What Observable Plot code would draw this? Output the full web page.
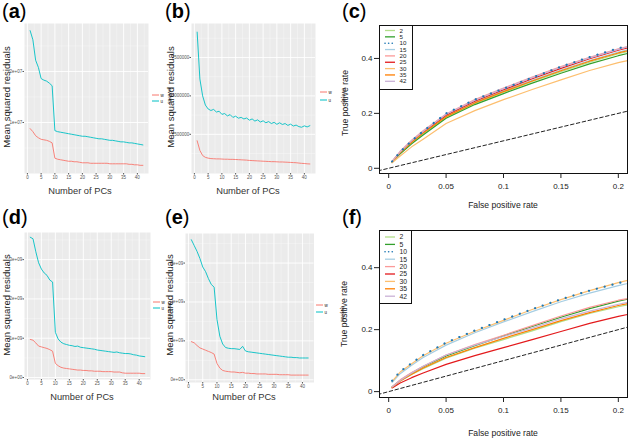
<!DOCTYPE html>
<html><head><meta charset="utf-8">
<script src="https://cdn.jsdelivr.net/npm/d3@7"></script>
<script src="https://cdn.jsdelivr.net/npm/@observablehq/plot@0.6"></script>
<style>
body{margin:0;background:#fff;}
#fig{position:relative;width:628px;height:440px;overflow:hidden;background:#fff;font-family:'Liberation Sans',Arial,Helvetica,sans-serif;}
.abs{position:absolute;white-space:nowrap;line-height:1;}
</style></head>
<body><div id="fig"></div>
<script>
// ---------- data ----------
const pcs = [1,2,3,4,5,6,7,8,9,10,11,12,13,14,15,16,17,18,19,20,21,22,23,24,25,26,27,28,29,30,31,32,33,34,35,36,37,38,39,40,41,42];
const seriesNames = ["w", "u"];           // legend labels (red, teal)
// panel (a), units of 1e7
const aRed  = [0.88,0.82,0.74,0.70,0.67,0.66,0.65,0.63,0.60,0.30,0.28,0.27,0.26,0.25,0.24,0.24,0.23,0.23,0.22,0.21,0.21,0.21,0.20,0.20,0.20,0.20,0.20,0.20,0.20,0.19,0.19,0.19,0.19,0.19,0.19,0.19,0.18,0.18,0.17,0.17,0.16,0.16];
const aTeal = [2.80,2.62,2.22,2.08,1.86,1.83,1.81,1.77,1.72,0.84,0.82,0.81,0.80,0.79,0.78,0.77,0.76,0.75,0.74,0.73,0.73,0.72,0.71,0.70,0.69,0.68,0.68,0.67,0.66,0.65,0.65,0.64,0.63,0.62,0.62,0.61,0.60,0.60,0.59,0.58,0.57,0.56];
// panel (b), units of 1e6
const bRed  = [2.08,1.45,1.12,1.00,0.95,0.92,0.91,0.90,0.90,0.89,0.88,0.88,0.87,0.87,0.86,0.85,0.84,0.83,0.82,0.80,0.79,0.78,0.77,0.76,0.75,0.74,0.73,0.72,0.72,0.71,0.70,0.70,0.69,0.68,0.67,0.66,0.65,0.63,0.61,0.60,0.58,0.57];
const bTeal = [9.15,6.10,5.00,4.40,4.15,4.05,4.12,3.95,4.00,3.80,3.85,3.70,3.78,3.60,3.68,3.55,3.60,3.50,3.56,3.42,3.50,3.36,3.44,3.30,3.38,3.25,3.33,3.20,3.28,3.15,3.25,3.14,3.20,3.08,3.16,3.04,3.10,3.00,2.96,3.05,2.98,3.06];
// panel (d), units of 1e9
const dRed  = [0.97,0.95,0.88,0.80,0.78,0.76,0.74,0.71,0.67,0.36,0.30,0.26,0.24,0.23,0.22,0.21,0.20,0.19,0.19,0.18,0.18,0.17,0.17,0.16,0.16,0.16,0.15,0.15,0.15,0.15,0.14,0.14,0.14,0.12,0.11,0.11,0.11,0.11,0.11,0.11,0.10,0.10];
const dTeal = [3.57,3.53,3.20,2.92,2.76,2.66,2.60,2.48,2.43,1.15,0.98,0.90,0.86,0.84,0.82,0.81,0.79,0.80,0.77,0.76,0.75,0.74,0.73,0.72,0.70,0.69,0.68,0.67,0.66,0.65,0.64,0.65,0.63,0.62,0.61,0.61,0.60,0.58,0.57,0.55,0.54,0.53];
// panel (e), units of 1e9
const eRed  = [0.98,0.95,0.88,0.82,0.79,0.76,0.73,0.70,0.66,0.42,0.30,0.24,0.22,0.21,0.20,0.20,0.19,0.18,0.19,0.17,0.17,0.16,0.16,0.15,0.15,0.15,0.15,0.14,0.14,0.14,0.14,0.13,0.13,0.13,0.13,0.12,0.12,0.12,0.12,0.12,0.12,0.12];
const eTeal = [3.60,3.45,3.30,3.12,2.90,2.78,2.60,2.45,2.38,1.55,1.12,0.92,0.83,0.81,0.80,0.80,0.79,0.78,0.86,0.74,0.72,0.71,0.70,0.69,0.68,0.67,0.66,0.65,0.64,0.63,0.62,0.61,0.60,0.59,0.58,0.58,0.57,0.57,0.56,0.56,0.56,0.56];
const pcTicks = [0,5,10,15,20,25,30,35,40];
const pcMinor = [2.5,7.5,12.5,17.5,22.5,27.5,32.5,37.5,42.5];
const aTicks = [1,2], aTickLabels = ["1e+07","2e+07"], aMinor = [0.5,1.5,2.5];
const bTicks = [2.5,5,7.5], bTickLabels = ["2500000","5000000","7500000"], bMinor = [1.25,3.75,6.25,8.75];
const deTicks = [0,1,2,3], deTickLabels = ["0e+00","1e+09","2e+09","3e+09"], deMinor = [0.5,1.5,2.5,3.5];

// ROC panels
const rocKeys   = ["2","5","10","15","20","25","30","35","42"];
const rocColors = ["#b2df8a","#33a02c","#1f78b4","#a6cee3","#fb9a99","#e31a1c","#fdbf6f","#ff7f00","#cab2d6"];
const fpr = [0.003,0.01,0.02,0.03,0.05,0.075,0.1,0.125,0.15,0.175,0.2,0.208];
const tprC = [
  [0.023,0.055,0.092,0.125,0.185,0.236,0.277,0.316,0.352,0.386,0.417,0.425], // 2
  [0.022,0.053,0.089,0.121,0.182,0.232,0.272,0.310,0.346,0.380,0.410,0.418], // 5
  [0.025,0.060,0.100,0.135,0.200,0.250,0.290,0.330,0.370,0.405,0.437,0.445], // 10
  [0.024,0.058,0.096,0.130,0.190,0.240,0.282,0.320,0.358,0.392,0.423,0.431], // 15
  [0.025,0.062,0.102,0.137,0.198,0.250,0.292,0.332,0.370,0.404,0.435,0.443], // 20
  [0.024,0.058,0.097,0.131,0.193,0.244,0.286,0.326,0.364,0.399,0.430,0.438], // 25
  [0.020,0.045,0.078,0.106,0.163,0.210,0.250,0.287,0.322,0.356,0.385,0.392], // 30
  [0.024,0.057,0.095,0.128,0.188,0.238,0.279,0.318,0.355,0.390,0.420,0.428], // 35
  [0.025,0.060,0.100,0.134,0.197,0.248,0.290,0.330,0.368,0.402,0.433,0.442]  // 42
];
const tprF = [
  [0.014,0.034,0.055,0.074,0.108,0.140,0.168,0.196,0.226,0.252,0.274,0.280], // 2
  [0.015,0.036,0.060,0.080,0.115,0.148,0.180,0.210,0.240,0.268,0.292,0.298], // 5
  [0.035,0.065,0.092,0.118,0.158,0.197,0.232,0.266,0.298,0.326,0.350,0.357], // 10
  [0.030,0.058,0.085,0.110,0.150,0.190,0.225,0.258,0.290,0.318,0.342,0.349], // 15
  [0.016,0.038,0.062,0.082,0.118,0.152,0.182,0.213,0.244,0.272,0.295,0.300], // 20
  [0.012,0.028,0.045,0.060,0.088,0.116,0.142,0.168,0.194,0.220,0.243,0.249], // 25
  [0.033,0.063,0.090,0.116,0.156,0.195,0.230,0.265,0.297,0.326,0.352,0.359], // 30
  [0.014,0.034,0.056,0.076,0.110,0.142,0.172,0.200,0.229,0.255,0.278,0.284], // 35
  [0.015,0.036,0.060,0.082,0.118,0.150,0.178,0.205,0.235,0.260,0.282,0.288]  // 42
];
const fprTicks = [0,0.05,0.1,0.15,0.2];
const tprTicks = [0,0.2,0.4];
const refLine = [-0.05,0.25];

// ---------- helpers ----------
const fig = document.getElementById("fig");
const FONT = "'Liberation Sans', Arial, Helvetica, sans-serif";
const RED = "#F8766D", TEAL = "#00BFC4";

function placeSvg(svg, left, top) {
  svg.style.position = "absolute";
  svg.style.left = left + "px";
  svg.style.top = top + "px";
  fig.appendChild(svg);
}
function text(txt, cx, cy, size, rot = 0, color = "#1a1a1a", weight = "normal") {
  const el = document.createElement("div");
  el.className = "abs";
  el.textContent = txt;
  el.style.left = cx + "px";
  el.style.top = cy + "px";
  el.style.fontSize = size + "px";
  el.style.color = color;
  el.style.fontWeight = weight;
  el.style.transform = `translate(-50%,-50%) rotate(${rot}deg)`;
  fig.appendChild(el);
  return el;
}
function letter(ch, x, y) {
  const el = document.createElement("div");
  el.className = "abs";
  el.innerHTML = `(<b>${ch}</b>)`;
  el.style.left = x + "px";
  el.style.top = y + "px";
  el.style.fontSize = "20px";
  el.style.lineHeight = "23px";
  el.style.color = "#000";
  fig.appendChild(el);
}
const baseStyle = {background: "transparent", overflow: "visible", maxWidth: "none", fontFamily: FONT};

function grayPanel(fx0, fx1, fy0, fy1, ydom, yticks, ylabels, yminor, red, teal) {
  const ml = 26, mr = 2, mt = 2, mb = 10;
  const tbl = vals => pcs.map((pc, i) => ({pc, v: vals[i]}));
  const svg = Plot.plot({
    width: fx1 - fx0 + ml + mr, height: fy1 - fy0 + mt + mb,
    marginLeft: ml, marginRight: mr, marginTop: mt, marginBottom: mb,
    x: {domain: [-1.05, 44.05], label: null},
    y: {domain: ydom, label: null},
    style: {...baseStyle, fontSize: "4.5px"},
    marks: [
      Plot.frame({fill: "#EBEBEB", stroke: "none"}),
      Plot.gridX(pcMinor, {stroke: "#fff", strokeOpacity: 0.6, strokeWidth: 0.5}),
      Plot.gridY(yminor, {stroke: "#fff", strokeOpacity: 0.6, strokeWidth: 0.5}),
      Plot.gridX(pcTicks, {stroke: "#fff", strokeOpacity: 1, strokeWidth: 0.9}),
      Plot.gridY(yticks, {stroke: "#fff", strokeOpacity: 1, strokeWidth: 0.9}),
      Plot.line(tbl(red), {x: "pc", y: "v", stroke: RED, strokeWidth: 0.9}),
      Plot.line(tbl(teal), {x: "pc", y: "v", stroke: TEAL, strokeWidth: 0.9}),
      Plot.axisX(pcTicks, {tickSize: 1.5, tickPadding: 0.8, fontSize: 4.5, color: "#555", label: null}),
      Plot.axisY(yticks, {tickSize: 1.5, tickPadding: 0.8, fontSize: 4.5, color: "#555", label: null,
        tickFormat: d => ylabels[yticks.indexOf(d)]})
    ]
  });
  placeSvg(svg, fx0 - ml, fy0 - mt);
}
function smallLegend(x0, yRed, yTeal, titleX, titleY) {
  const s = d3.select(fig).append("svg")
    .style("position", "absolute").style("left", x0 + "px").style("top", (yRed - 4) + "px")
    .attr("width", 14).attr("height", yTeal - yRed + 8).style("overflow", "visible");
  [[yRed, RED, seriesNames[0]], [yTeal, TEAL, seriesNames[1]]].forEach(([y, c, n]) => {
    s.append("line").attr("x1", 0).attr("x2", 7).attr("y1", y - yRed + 4).attr("y2", y - yRed + 4)
      .attr("stroke", c).attr("stroke-width", 1);
    s.append("text").attr("x", 8.5).attr("y", y - yRed + 4).attr("dy", "0.35em")
      .attr("font-size", 4.5).attr("font-family", FONT).attr("fill", "#222").text(n);
  });
  text("events", titleX, titleY, 5.5, 90, "#333");
}
function rocPanel(fx0, fx1, fy0, fy1, tprs) {
  const ml = 32, mr = 1, mt = 2, mb = 22;
  const rows = rocKeys.flatMap((k, j) => fpr.map((f, i) => ({k, f, t: tprs[j][i]})));
  const svg = Plot.plot({
    width: fx1 - fx0 + ml + mr, height: fy1 - fy0 + mt + mb,
    marginLeft: ml, marginRight: mr, marginTop: mt, marginBottom: mb,
    x: {domain: [-0.008, 0.208], label: null},
    y: {domain: [-0.019, 0.52], label: null},
    color: {domain: rocKeys, range: rocColors},
    style: {...baseStyle, fontSize: "8px"},
    marks: [
      Plot.line(refLine, {x: d => d, y: d => d, clip: true, stroke: "#222", strokeWidth: 1, strokeDasharray: "3.5,2.5"}),
      Plot.line(rows.filter(d => d.k !== "10"), {x: "f", y: "t", z: "k", stroke: "k", strokeWidth: 1.2, curve: "linear"}),
      Plot.line(rows.filter(d => d.k === "10"), {x: "f", y: "t", stroke: rocColors[2], strokeWidth: 2.2,
        strokeDasharray: "0.1,8", strokeLinecap: "round"}),
      Plot.frame({stroke: "#111", strokeWidth: 1}),
      Plot.axisX(fprTicks, {tickSize: 5, tickPadding: 5, fontSize: 8, color: "#222", label: null, tickFormat: d3.format("~g")}),
      Plot.axisY(tprTicks, {tickSize: 5, tickPadding: 2, fontSize: 8, color: "#222", label: null, tickFormat: d3.format("~g")})
    ]
  });
  placeSvg(svg, fx0 - ml, fy0 - mt);
}
function rocLegend(x0, y0, w, h, rowY0, step, fs) {
  const s = d3.select(fig).append("svg")
    .style("position", "absolute").style("left", x0 + "px").style("top", y0 + "px")
    .attr("width", w).attr("height", h);
  s.append("rect").attr("x", 0.5).attr("y", 0.5).attr("width", w - 1).attr("height", h - 1)
    .attr("fill", "#fff").attr("stroke", "#111").attr("stroke-width", 1);
  rocKeys.forEach((k, i) => {
    const y = rowY0 - y0 + i * step;
    const dotted = k === "10";
    s.append("line").attr("x1", 6).attr("x2", 16).attr("y1", y).attr("y2", y)
      .attr("stroke", rocColors[i]).attr("stroke-width", dotted ? 1.6 : 1.3)
      .attr("stroke-dasharray", dotted ? "0.1,3.5" : null).attr("stroke-linecap", dotted ? "round" : "butt");
    s.append("text").attr("x", 20.5).attr("y", y).attr("dy", "0.35em").attr("font-size", fs)
      .attr("font-family", FONT).attr("fill", "#222").text(k);
  });
}

// ---------- panels ----------
grayPanel(24, 148, 23, 173, [0.0, 2.94], aTicks, aTickLabels, aMinor, aRed, aTeal);
grayPanel(191, 315, 23, 173, [-0.05, 9.71], bTicks, bTickLabels, bMinor, bRed, bTeal);
grayPanel(24, 150, 232, 379, [-0.05, 3.69], deTicks, deTickLabels, deMinor, dRed, dTeal);
grayPanel(185, 313.5, 233, 382, [-0.07, 3.76], deTicks, deTickLabels, deMinor, eRed, eTeal);
rocPanel(379, 627, 25, 173, tprC);
rocPanel(379, 627, 230, 397, tprF);
rocLegend(379, 25, 34, 65, 30.5, 6.35, 6.2);
rocLegend(379, 230, 33, 74, 237, 7.4, 6.8);

smallLegend(152, 95, 101, 169, 96);
smallLegend(320, 92, 100, 343, 96);
smallLegend(153, 302, 308, 169, 311);
smallLegend(316, 305, 312, 342, 314);

// ---------- titles ----------
const MSR = "Mean squared residuals", NPC = "Number of PCs";
text(MSR, 7, 97, 9.5, -90); text(NPC, 80, 192, 9.3, 0, "#333");
text(MSR, 171, 97, 9.5, -90); text(NPC, 248, 192, 9.3, 0, "#333");
text(MSR, 7, 305, 9.5, -90); text(NPC, 82, 398, 9.3, 0, "#333");
text(MSR, 170, 305, 9.5, -90); text(NPC, 244, 398, 9.3, 0, "#333");
text("True positive rate", 345, 103, 8.6, -90, "#222");
text("False positive rate", 503, 205, 8.6, 0, "#222");
text("True positive rate", 344, 314, 8.6, -90, "#222");
text("False positive rate", 503, 433, 8.6, 0, "#222");

letter("a", 2, 0); letter("b", 165, 0); letter("c", 342, 0);
letter("d", 2, 206); letter("e", 165, 206); letter("f", 342, 206);
</script>
</body></html>
